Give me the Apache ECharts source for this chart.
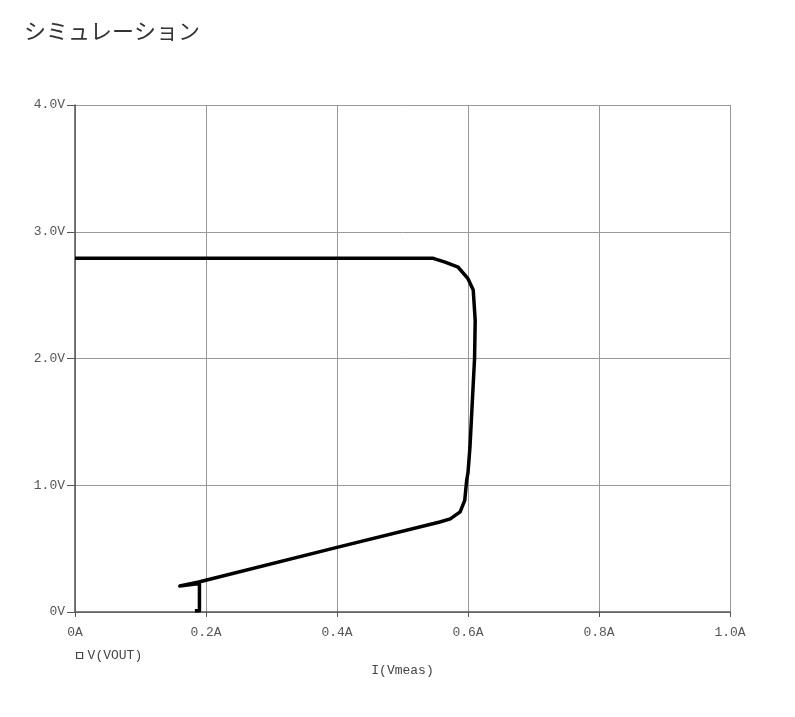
<!DOCTYPE html>
<html>
<head>
<meta charset="utf-8">
<script src="https://cdn.jsdelivr.net/npm/echarts@6/dist/echarts.min.js"></script>
<style>
html,body{margin:0;padding:0;background:#fff;}
#c{width:795px;height:717px;}
</style>
</head>
<body>
<div id="c"></div>
<script>
const titleText = "シミュレーション";
const seriesName = "V(VOUT)";
const xAxisName = "I(Vmeas)";
const currentA = [0, 0.547, 0.565, 0.585, 0.600, 0.608, 0.611, 0.610, 0.606, 0.603, 0.600, 0.598, 0.595, 0.588, 0.573, 0.557, 0.400, 0.189, 0.160, 0.190, 0.190, 0.183];
const voltageV = [2.79, 2.79, 2.76, 2.72, 2.63, 2.54, 2.30, 2.00, 1.60, 1.30, 1.10, 1.04, 0.88, 0.79, 0.735, 0.71, 0.51, 0.237, 0.205, 0.225, 0.01, 0.01];
const xTicks = {min: 0, max: 1.0, step: 0.2};
const yTicks = {min: 0, max: 4.0, step: 1.0};

const pts = currentA.map((x, i) => [x, voltageV[i]]);
const mono = "'Liberation Mono', 'DejaVu Sans Mono', monospace";
const chart = echarts.init(document.getElementById('c'), null, {renderer: 'canvas'});
chart.setOption({
  animation: false,
  backgroundColor: '#fff',
  title: {
    text: titleText, left: 19, top: 15,
    textStyle: {fontFamily: "'Noto Sans CJK JP'", fontSize: 22, fontWeight: 'normal', color: '#333'}
  },
  legend: {
    data: [{name: seriesName, icon: 'rect'}],
    left: 71, top: 644, itemWidth: 6, itemHeight: 6, itemGap: 8,
    itemStyle: {color: '#fff', borderColor: '#444', borderWidth: 1.2},
    textStyle: {fontFamily: mono, fontSize: 13, color: '#444'}
  },
  grid: {left: 75, right: 65, top: 105, bottom: 105},
  xAxis: {
    type: 'value', min: xTicks.min, max: xTicks.max, interval: xTicks.step,
    name: xAxisName, nameLocation: 'middle', nameGap: 52,
    nameTextStyle: {fontFamily: mono, fontSize: 13, color: '#444'},
    axisLine: {show: true, lineStyle: {color: '#555', width: 1.5}},
    axisTick: {show: true, length: 5, lineStyle: {color: '#555'}},
    axisLabel: {fontFamily: mono, fontSize: 13, color: '#555', margin: 14,
      formatter: v => (Math.abs(v) < 1e-9 ? '0' : v.toFixed(1)) + 'A'},
    splitLine: {show: true, lineStyle: {color: '#999', width: 1}}
  },
  yAxis: {
    type: 'value', min: yTicks.min, max: yTicks.max, interval: yTicks.step,
    axisLine: {show: true, lineStyle: {color: '#555', width: 1.5}},
    axisTick: {show: true, length: 8, lineStyle: {color: '#555'}},
    axisLabel: {fontFamily: mono, fontSize: 13, color: '#555', margin: 10,
      formatter: v => (Math.abs(v) < 1e-9 ? '0' : v.toFixed(1)) + 'V'},
    splitLine: {show: true, lineStyle: {color: '#999', width: 1}}
  },
  series: [{
    name: seriesName, type: 'line', data: pts, showSymbol: false, symbol: 'none',
    smooth: false, lineStyle: {color: '#000', width: 3.5, join: 'round'},
    itemStyle: {color: '#fff', borderColor: '#444'}
  }]
});
</script>
</body>
</html>
